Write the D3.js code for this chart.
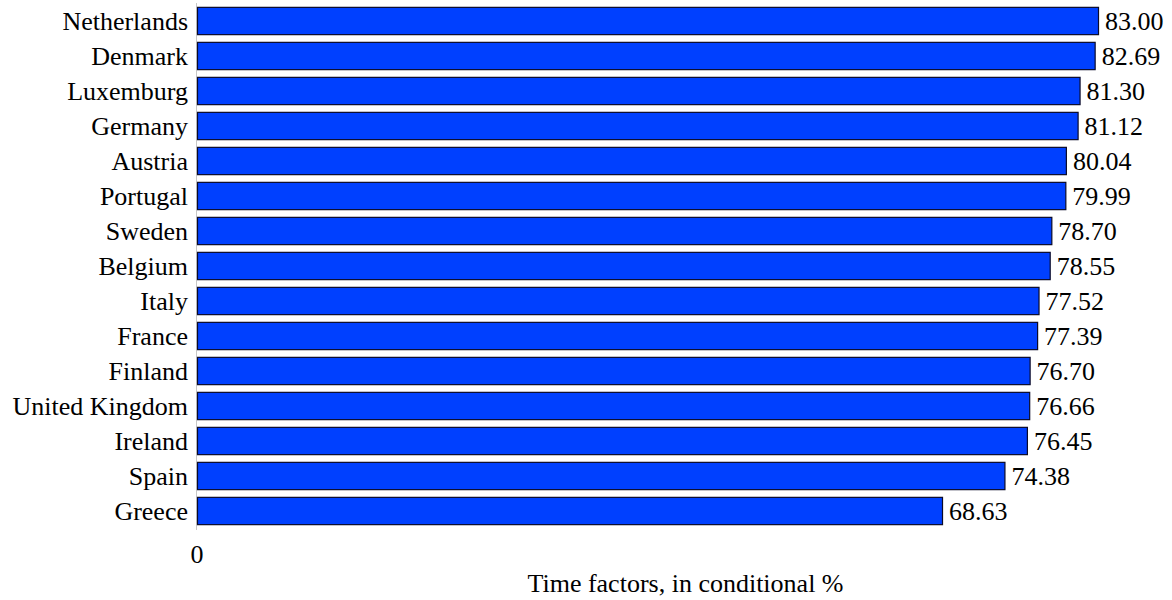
<!DOCTYPE html>
<html>
<head>
<meta charset="utf-8">
<script src="https://cdn.jsdelivr.net/npm/d3@7"></script>
<style>
  body { margin: 0; background: #fff; }
</style>
</head>
<body>
<div id="chart"></div>
<script>
// country order top -> bottom
const countries = ["Netherlands", "Denmark", "Luxemburg", "Germany", "Austria", "Portugal", "Sweden",
  "Belgium", "Italy", "France", "Finland", "United Kingdom", "Ireland", "Spain", "Greece"];
const values = [83.00, 82.69, 81.30, 81.12, 80.04, 79.99, 78.70, 78.55, 77.52, 77.39, 76.70, 76.66, 76.45, 74.38, 68.63];
const xTicks = [0];
const xTitle = "Time factors, in conditional %";

const data = countries.map((c, i) => ({ country: c, value: values[i] }));

const svg = d3.select("#chart").append("svg")
    .attr("width", 1172).attr("height", 600)
    .attr("font-family", "'Liberation Serif', 'Times New Roman', Times, serif")
    .attr("font-size", 26);

const x = d3.scaleLinear()
    .domain([0, 90])
    .range([197, 1174]);

const y = d3.scaleBand()
    .domain(countries)
    .range([3, 528])
    .paddingInner(0.22)
    .paddingOuter(0.11);

// vertical axis line
svg.append("line")
    .attr("x1", 196.5).attr("x2", 196.5)
    .attr("y1", y.range()[0]).attr("y2", y.range()[1] + 2)
    .attr("stroke", "#c8c8c8").attr("stroke-width", 1);

// category labels
svg.append("g")
  .selectAll("text")
  .data(data)
  .enter().append("text")
    .attr("x", 188)
    .attr("y", d => y(d.country) + y.bandwidth() / 2)
    .attr("dy", "0.35em")
    .attr("text-anchor", "end")
    .text(d => d.country);

// bars
svg.append("g")
  .selectAll("rect")
  .data(data)
  .enter().append("rect")
    .attr("x", x(0) + 0.5)
    .attr("y", d => y(d.country) + 0.5)
    .attr("width", d => x(d.value) - x(0))
    .attr("height", y.bandwidth())
    .attr("fill", "#0040ff")
    .attr("stroke", "#0a0a28")
    .attr("stroke-width", 1.2);

// value labels
svg.append("g")
  .selectAll("text")
  .data(data)
  .enter().append("text")
    .attr("x", d => x(d.value) + 7)
    .attr("y", d => y(d.country) + y.bandwidth() / 2)
    .attr("dy", "0.35em")
    .text(d => d.value.toFixed(2));

// x tick label
svg.append("g")
  .selectAll("text")
  .data(xTicks)
  .enter().append("text")
    .attr("x", d => x(d))
    .attr("y", 563)
    .attr("text-anchor", "middle")
    .text(d => d);

// x title
svg.append("text")
    .attr("x", (x.range()[0] + x.range()[1]) / 2)
    .attr("y", 592)
    .attr("text-anchor", "middle")
    .text(xTitle);
</script>
</body>
</html>
